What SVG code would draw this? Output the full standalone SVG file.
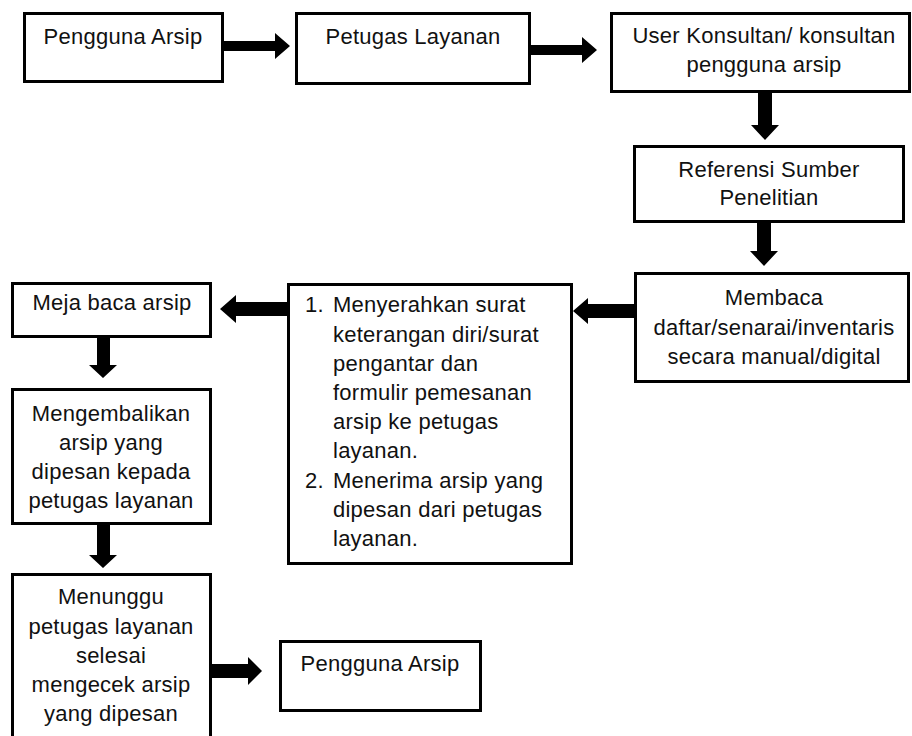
<svg xmlns="http://www.w3.org/2000/svg" width="912" height="736" viewBox="0 0 912 736">
<style>
.box{fill:#fff;stroke:#000;stroke-width:3}
.t{font-family:"Liberation Sans",Arial,sans-serif;font-size:22px;letter-spacing:0.25px;fill:#111}
.c{text-anchor:middle}
.arr{fill:#000}
</style>
<rect width="912" height="736" fill="#fff"/>
<g id="connectors">
<polygon class="arr" points="224,41 275,41 275,33 290,46 275,59 275,51 224,51"/>
<polygon class="arr" points="531,45 582,45 582,37 597,50 582,63 582,55 531,55"/>
<polygon class="arr" points="758,93 772,93 772,125 779,125 765,140 751,125 758,125"/>
<polygon class="arr" points="757,223 771,223 771,251 778,251 764,266 750,251 757,251"/>
<polygon class="arr" points="634,304 588,304 588,298 573,311 588,324 588,318 634,318"/>
<polygon class="arr" points="287,302 236,302 236,295 220,309 236,323 236,316 287,316"/>
<polygon class="arr" points="97,338 110,338 110,365 117,365 103,378 89,365 97,365"/>
<polygon class="arr" points="97,525 110,525 110,555 117,555 103,568 89,555 97,555"/>
<polygon class="arr" points="212,664 248,664 248,657 262,671 248,685 248,678 212,678"/>
</g>
<g id="n1"><rect class="box" x="24.5" y="13.5" width="198" height="68"/><text class="t c" x="123" y="44">Pengguna Arsip</text></g>
<g id="n2"><rect class="box" x="296.5" y="13.5" width="233" height="70"/><text class="t c" x="413" y="44">Petugas Layanan</text></g>
<g id="n3"><rect class="box" x="611.5" y="13.5" width="298" height="78"/><text class="t c" x="764" y="43">User Konsultan/ konsultan</text><text class="t c" x="764" y="72">pengguna arsip</text></g>
<g id="n4"><rect class="box" x="634.5" y="146.5" width="269" height="75"/><text class="t c" x="769" y="177">Referensi Sumber</text><text class="t c" x="769" y="205">Penelitian</text></g>
<g id="n5"><rect class="box" x="635.5" y="273.5" width="273" height="108"/><text class="t c" x="774" y="305">Membaca</text><text class="t c" x="774" y="335">daftar/senarai/inventaris</text><text class="t c" x="774" y="364">secara manual/digital</text></g>
<g id="n6"><rect class="box" x="288.5" y="284.5" width="283" height="279"/>
<text class="t" x="305" y="312">1.</text><text class="t" x="333" y="312">Menyerahkan surat</text>
<text class="t" x="333" y="342">keterangan diri/surat</text>
<text class="t" x="333" y="371">pengantar dan</text>
<text class="t" x="333" y="400">formulir pemesanan</text>
<text class="t" x="333" y="429">arsip ke petugas</text>
<text class="t" x="333" y="458">layanan.</text>
<text class="t" x="305" y="488">2.</text><text class="t" x="333" y="488">Menerima arsip yang</text>
<text class="t" x="333" y="517">dipesan dari petugas</text>
<text class="t" x="333" y="546">layanan.</text></g>
<g id="n7"><rect class="box" x="12.5" y="283.5" width="198" height="53"/><text class="t c" x="112" y="310">Meja baca arsip</text></g>
<g id="n8"><rect class="box" x="12.5" y="389.5" width="198" height="134"/><text class="t c" x="111" y="421">Mengembalikan</text><text class="t c" x="111" y="450">arsip yang</text><text class="t c" x="111" y="479">dipesan kepada</text><text class="t c" x="111" y="508">petugas layanan</text></g>
<g id="n9"><rect class="box" x="12.5" y="574.5" width="198" height="180"/><text class="t c" x="111" y="604">Menunggu</text><text class="t c" x="111" y="634">petugas layanan</text><text class="t c" x="111" y="663">selesai</text><text class="t c" x="111" y="692">mengecek arsip</text><text class="t c" x="111" y="721">yang dipesan</text></g>
<g id="n10"><rect class="box" x="280.5" y="641.5" width="200" height="69"/><text class="t c" x="380" y="671">Pengguna Arsip</text></g>
</svg>
